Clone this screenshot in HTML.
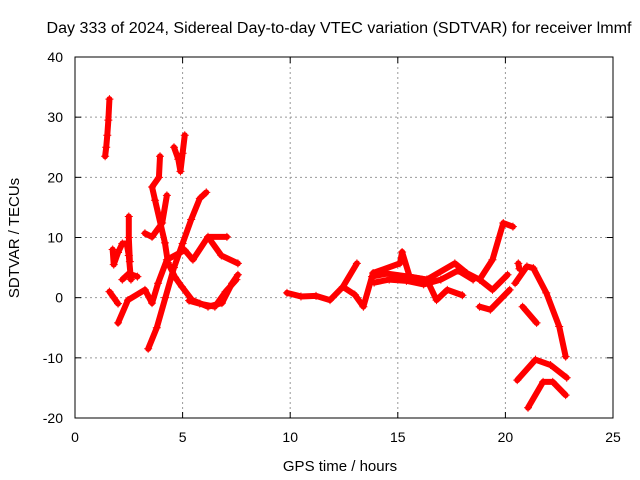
<!DOCTYPE html>
<html><head><meta charset="utf-8"><style>
body{margin:0;background:#fff;}
svg{display:block;font-family:"Liberation Sans",sans-serif;}
</style></head><body>
<svg id="chart" width="640" height="480" viewBox="0 0 640 480">
<text x="339" y="33" font-size="15.5" text-anchor="middle" textLength="585" lengthAdjust="spacingAndGlyphs">Day 333 of 2024, Sidereal Day-to-day VTEC variation (SDTVAR) for receiver lmmf</text>
<text x="340" y="471" font-size="15" text-anchor="middle">GPS time / hours</text>
<text transform="translate(19,238) rotate(-90)" font-size="15" text-anchor="middle">SDTVAR / TECUs</text>
<g id="grid"></g><g id="ticks"></g><g id="series"></g>
<rect x="75" y="57" width="538" height="361" fill="none" stroke="#000" stroke-width="1"/>
</svg>
<script>
const xTicks=[0,5,10,15,20,25];
const yTicks=[-20,-10,0,10,20,30,40];
const trackA=[[1.4,23.5],[1.45,25],[1.5,27],[1.55,29.5],[1.6,33]];
const trackB=[[4.6,25],[4.8,23],[4.9,21],[5.0,24],[5.1,27]];
const trackC=[[3.4,-8.5],[3.8,-5],[4.2,0],[4.6,5],[5.0,9],[5.4,13],[5.8,16.5],[6.1,17.5]];
const trackD=[[3.95,23.5],[3.9,20],[3.58,18.4],[3.72,16.2],[4.18,9.1],[4.32,5.8],[4.65,3.4],[4.97,1.8],[5.44,-0.4],[6.18,-1.5],[6.83,-0.9],[7.3,2.4],[7.57,3.8]];
const trackE=[[4.27,17],[4.05,12.4],[3.58,10.1],[3.25,10.7]];
const trackF=[[2.0,-4.2],[2.46,-0.4],[3.25,1.3],[3.58,-0.9],[3.86,2.4],[4.27,6.3],[5.1,7.9],[5.48,6.3],[6.18,10.1],[7.06,10.1]];
const trackG=[[6.18,10.1],[6.8,7],[7.57,5.7]];
const trackH=[[1.75,8],[1.8,5.5],[2.0,7.5],[2.2,9],[2.4,9],[2.5,7],[2.6,3]];
const trackI=[[2.5,13.5],[2.5,10],[2.55,6]];
const trackJ=[[1.6,1],[1.8,0],[2.0,-1]];
const trackK=[[2.2,3],[2.5,4],[2.9,3.5]];
const trackL=[[5.3,-0.5],[5.8,-1],[6.5,-1.5],[7.0,1],[7.5,3]];
const trackM=[[9.85,0.8],[10.5,0.2],[11.2,0.3],[11.85,-0.4],[12.45,1.8],[13.1,5.7]];
const trackN=[[12.45,1.8],[13.0,0.5],[13.4,-1.5],[13.85,4.1],[15.1,5.7],[15.2,7.6],[15.55,3.5],[16.35,3.0],[16.8,-0.4],[17.3,1.3],[18.0,0.4]];
const trackO=[[13.8,3.5],[14.5,4],[15.5,3.5],[16.35,3.0],[17.65,5.7],[18.2,4.1],[18.8,3.0],[19.4,6.3],[19.9,12.4],[20.35,11.8]];
const trackO2=[[13.9,2.5],[14.6,3.0],[15.4,2.8],[16.2,2.2],[17.0,3.0],[17.8,4.5],[18.5,3.0]];
const trackP=[[18.8,3.0],[19.4,1.3],[20.1,3.8]];
const trackQ=[[18.8,-1.5],[19.3,-2.0],[20.2,1.3]];
const trackR=[[20.45,2.4],[21.0,5.2],[21.3,4.9],[21.9,0.8],[22.5,-4.8],[22.8,-9.8]];
const trackS=[[20.8,-1.5],[21.45,-4.2]];
const trackT=[[20.55,-13.7],[21.4,-10.3],[22.1,-11.2],[22.85,-13.3]];
const trackU=[[21.05,-18.3],[21.75,-14.0],[22.2,-14.0],[22.8,-16.2]];
const trackV=[[20.6,5.7],[20.65,4.8]];
const tracks=[trackA,trackB,trackC,trackD,trackE,trackF,trackG,trackH,trackI,trackJ,trackK,trackL,trackM,trackN,trackO,trackO2,trackP,trackQ,trackR,trackS,trackT,trackU,trackV];
const NS='http://www.w3.org/2000/svg';
const xS=t=>75+t*(538/25);
const yS=v=>418-(v+20)*(361/60);
const grid=document.getElementById('grid'),ticks=document.getElementById('ticks'),ser=document.getElementById('series');
function mk(tag,attrs,parent){const e=document.createElementNS(NS,tag);for(const k in attrs)e.setAttribute(k,attrs[k]);parent.appendChild(e);return e;}
xTicks.forEach(t=>{const x=xS(t);
 if(t>0&&t<25){const g=mk('line',{x1:x,x2:x,y1:57,y2:418,stroke:'#999','stroke-dasharray':'2,3'},grid);}
 mk('line',{x1:x,x2:x,y1:418,y2:412,stroke:'#000'},ticks);mk('line',{x1:x,x2:x,y1:57,y2:63,stroke:'#000'},ticks);
 const l=mk('text',{x:x,y:442,'font-size':14,'text-anchor':'middle'},ticks);l.textContent=t;
 
 });
yTicks.forEach(v=>{const y=yS(v);
 if(v>-20&&v<40){const g=mk('line',{x1:75,x2:613,y1:y,y2:y,stroke:'#999','stroke-dasharray':'2,3'},grid);}
 mk('line',{x1:75,x2:81,y1:y,y2:y,stroke:'#000'},ticks);mk('line',{x1:613,x2:607,y1:y,y2:y,stroke:'#000'},ticks);
 const l=mk('text',{x:63,y:y+5,'font-size':14,'text-anchor':'end'},ticks);l.textContent=v;
 
 });
tracks.forEach(tr=>{
 const p=mk('polyline',{points:tr.map(d=>xS(d[0])+','+yS(d[1])).join(' '),fill:'none',stroke:'#f00','stroke-width':6,'stroke-linejoin':'round','stroke-linecap':'round'},ser);
 
 
 tr.forEach(d=>{const x=xS(d[0]),y=yS(d[1]);
  const m=mk('path',{d:`M${x-4},${y}H${x+4}M${x},${y-4}V${y+4}`,stroke:'#f00','stroke-width':1},ser);
  
  });
});
</script>
</body></html>
